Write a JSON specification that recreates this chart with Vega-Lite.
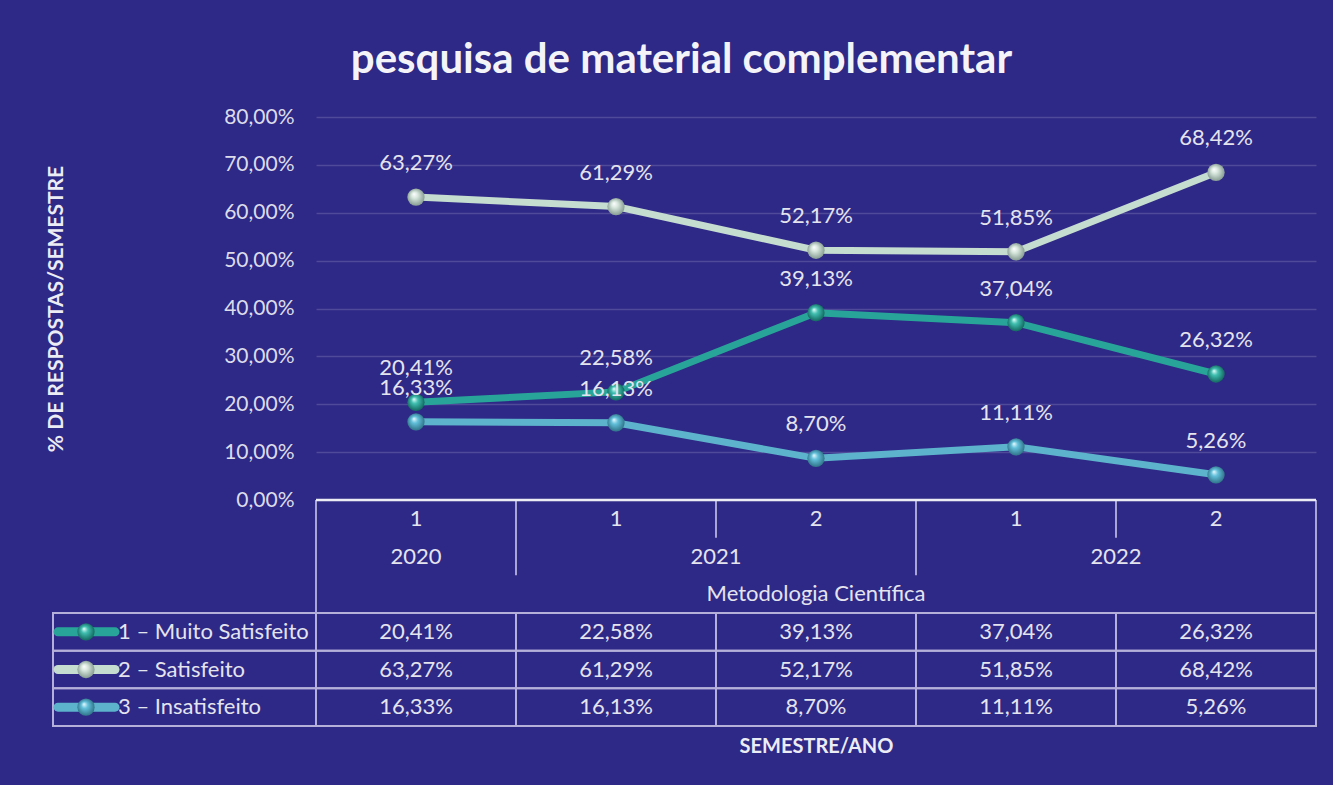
{
  "$schema": "https://vega.github.io/schema/vega-lite/v6.json",
  "background": "#2e2886",
  "padding": {"left": 45, "top": 39, "right": 15, "bottom": 43},
  "spacing": 0,
  "bounds": "flush",
  "config": {
    "font": "Lato",
    "view": {"stroke": null}
  },
  "title": {"text": "pesquisa de material complementar", "fontSize": 42, "fontWeight": "bold", "color": "#f4f4f8", "anchor": "middle", "offset": 24},
  "datasets": {
    "d": [
      {"ordem": 1, "ano": "2020", "sem": "1", "serie": "1 – Muito Satisfeito", "v": 0.2041},
      {"ordem": 2, "ano": "2021", "sem": "1", "serie": "1 – Muito Satisfeito", "v": 0.2258},
      {"ordem": 3, "ano": "2021", "sem": "2", "serie": "1 – Muito Satisfeito", "v": 0.3913},
      {"ordem": 4, "ano": "2022", "sem": "1", "serie": "1 – Muito Satisfeito", "v": 0.3704},
      {"ordem": 5, "ano": "2022", "sem": "2", "serie": "1 – Muito Satisfeito", "v": 0.2632},
      {"ordem": 1, "ano": "2020", "sem": "1", "serie": "2 – Satisfeito", "v": 0.6327},
      {"ordem": 2, "ano": "2021", "sem": "1", "serie": "2 – Satisfeito", "v": 0.6129},
      {"ordem": 3, "ano": "2021", "sem": "2", "serie": "2 – Satisfeito", "v": 0.5217},
      {"ordem": 4, "ano": "2022", "sem": "1", "serie": "2 – Satisfeito", "v": 0.5185},
      {"ordem": 5, "ano": "2022", "sem": "2", "serie": "2 – Satisfeito", "v": 0.6842},
      {"ordem": 1, "ano": "2020", "sem": "1", "serie": "3 – Insatisfeito", "v": 0.1633},
      {"ordem": 2, "ano": "2021", "sem": "1", "serie": "3 – Insatisfeito", "v": 0.1613},
      {"ordem": 3, "ano": "2021", "sem": "2", "serie": "3 – Insatisfeito", "v": 0.0870},
      {"ordem": 4, "ano": "2022", "sem": "1", "serie": "3 – Insatisfeito", "v": 0.1111},
      {"ordem": 5, "ano": "2022", "sem": "2", "serie": "3 – Insatisfeito", "v": 0.0526}
    ]
  },
  "vconcat": [
    {
      "width": 1000,
      "height": 383,
      "data": {"name": "d"},
      "transform": [
        {"calculate": "replace(format(datum.v * 100, '.2f'), '.', ',') + '%'", "as": "lbl"}
      ],
      "encoding": {
        "x": {"field": "ordem", "type": "quantitative", "scale": {"domain": [0.5, 5.5], "nice": false, "zero": false}, "axis": null},
        "y": {"field": "v", "type": "quantitative", "scale": {"domain": [0, 0.8], "nice": false},
          "axis": {"values": [0, 0.1, 0.2, 0.3, 0.4, 0.5, 0.6, 0.7, 0.8], "labelExpr": "replace(format(datum.value * 100, '.2f'), '.', ',') + '%'", "labelFontSize": 21, "labelColor": "#dcdcea", "labelPadding": 22, "ticks": false, "domain": false,
            "gridColor": "#ffffff", "gridOpacity": 0.16, "gridWidth": 1.5,
            "title": "% DE RESPOSTAS/SEMESTRE", "titleFontSize": 21, "titleFontWeight": "bold", "titleColor": "#ececf4", "titlePadding": 157}}
      },
      "layer": [
        {
          "mark": {"type": "line", "strokeWidth": 7, "clip": false},
          "encoding": {"color": {"field": "serie", "type": "nominal", "scale": {"domain": ["1 – Muito Satisfeito", "2 – Satisfeito", "3 – Insatisfeito"], "range": ["#28a598", "#c5dcd0", "#5db3cb"]}, "legend": null}}
        },
        {
          "transform": [{"filter": "datum.serie === '1 – Muito Satisfeito'"}],
          "mark": {"type": "point", "filled": true, "size": 300, "opacity": 1, "clip": false,
            "fill": {"gradient": "radial", "x1": 0.38, "y1": 0.32, "r1": 0, "x2": 0.5, "y2": 0.5, "r2": 0.55, "stops": [{"offset": 0, "color": "#e8fffb"}, {"offset": 0.35, "color": "#3fbfb0"}, {"offset": 1, "color": "#0f5e57"}]}}
        },
        {
          "transform": [{"filter": "datum.serie === '2 – Satisfeito'"}],
          "mark": {"type": "point", "filled": true, "size": 300, "opacity": 1, "clip": false,
            "fill": {"gradient": "radial", "x1": 0.38, "y1": 0.32, "r1": 0, "x2": 0.5, "y2": 0.5, "r2": 0.55, "stops": [{"offset": 0, "color": "#ffffff"}, {"offset": 0.35, "color": "#d6e6dd"}, {"offset": 1, "color": "#7e948a"}]}}
        },
        {
          "transform": [{"filter": "datum.serie === '3 – Insatisfeito'"}],
          "mark": {"type": "point", "filled": true, "size": 300, "opacity": 1, "clip": false,
            "fill": {"gradient": "radial", "x1": 0.38, "y1": 0.32, "r1": 0, "x2": 0.5, "y2": 0.5, "r2": 0.55, "stops": [{"offset": 0, "color": "#eafaff"}, {"offset": 0.35, "color": "#62c0da"}, {"offset": 1, "color": "#2a6b80"}]}}
        },
        {
          "mark": {"type": "text", "dy": -34, "fontSize": 22, "color": "#e4e4ee", "clip": false},
          "encoding": {"text": {"field": "lbl"}}
        }
      ]
    },
    {
      "width": 1000,
      "height": 226,
      "data": {"name": "d"},
      "transform": [
        {"calculate": "indexof(['1 – Muito Satisfeito','2 – Satisfeito','3 – Insatisfeito'], datum.serie) + 3", "as": "row"},
        {"calculate": "datum.row + 1", "as": "row2"},
        {"calculate": "datum.row + 0.5", "as": "rc"},
        {"calculate": "datum.ordem - 0.5", "as": "xa"},
        {"calculate": "datum.ordem + 0.5", "as": "xb"},
        {"calculate": "replace(format(datum.v * 100, '.2f'), '.', ',') + '%'", "as": "lbl"}
      ],
      "encoding": {
        "x": {"field": "xa", "type": "quantitative", "scale": {"domain": [0.5, 5.5], "nice": false, "zero": false},
          "axis": {"labels": false, "ticks": false, "grid": false, "domain": false, "title": "SEMESTRE/ANO", "titleFontSize": 20, "titleFontWeight": "bold", "titleColor": "#ececf4", "titlePadding": 10}},
        "y": {"field": "row", "type": "quantitative", "scale": {"domain": [0, 6], "reverse": true, "nice": false, "zero": false}, "axis": null}
      },
      "layer": [
        {
          "mark": {"type": "rect", "fillOpacity": 0, "stroke": "#b4b0da", "strokeWidth": 2, "clip": false},
          "encoding": {
            "x2": {"field": "xb"},
            "y2": {"field": "row2"}
          }
        },
        {
          "transform": [
            {"aggregate": [{"op": "min", "field": "row", "as": "rmin"}, {"op": "min", "field": "row2", "as": "rmax"}], "groupby": ["serie"]},
            {"calculate": "datum.rmin", "as": "row"},
            {"calculate": "datum.rmax", "as": "row2"},
            {"calculate": "-0.815", "as": "xa"},
            {"calculate": "0.5", "as": "xb"}
          ],
          "mark": {"type": "rect", "fillOpacity": 0, "stroke": "#b4b0da", "strokeWidth": 2, "clip": false},
          "encoding": {
            "x2": {"field": "xb"},
            "y2": {"field": "row2"}
          }
        },
        {
          "transform": [
            {"filter": "datum.serie === '1 – Muito Satisfeito'"},
            {"window": [{"op": "lag", "field": "ano", "as": "prev"}], "sort": [{"field": "ordem"}]},
            {"calculate": "datum.ordem == 1 ? 3 : (datum.ano != datum.prev ? 2 : 1)", "as": "ye"},
            {"calculate": "0", "as": "row"}
          ],
          "mark": {"type": "rule", "stroke": "#a9a5d4", "strokeWidth": 2, "clip": false},
          "encoding": {
            "y2": {"field": "ye"}
          }
        },
        {
          "transform": [
            {"filter": "datum.serie === '1 – Muito Satisfeito' && datum.ordem == 5"},
            {"calculate": "datum.xb", "as": "xa"},
            {"calculate": "0", "as": "row"},
            {"calculate": "3", "as": "ye"}
          ],
          "mark": {"type": "rule", "stroke": "#a9a5d4", "strokeWidth": 2, "clip": false},
          "encoding": {
            "y2": {"field": "ye"}
          }
        },
        {
          "transform": [
            {"aggregate": [{"op": "min", "field": "ordem", "as": "mn"}, {"op": "max", "field": "ordem", "as": "mx"}]},
            {"calculate": "datum.mn - 0.5", "as": "xa"},
            {"calculate": "datum.mx + 0.5", "as": "xb"},
            {"calculate": "0", "as": "row"}
          ],
          "mark": {"type": "rule", "stroke": "#ececf4", "strokeWidth": 2.5, "clip": false},
          "encoding": {
            "x2": {"field": "xb"}
          }
        },
        {
          "transform": [
            {"filter": "datum.serie === '1 – Muito Satisfeito'"},
            {"calculate": "datum.ordem", "as": "xa"},
            {"calculate": "0.5", "as": "row"}
          ],
          "mark": {"type": "text", "fontSize": 22, "color": "#e4e4ee", "clip": false},
          "encoding": {
            "text": {"field": "sem"}
          }
        },
        {
          "transform": [
            {"aggregate": [{"op": "min", "field": "ordem", "as": "mn"}, {"op": "max", "field": "ordem", "as": "mx"}], "groupby": ["ano"]},
            {"calculate": "(datum.mn + datum.mx) / 2", "as": "xa"},
            {"calculate": "1.5", "as": "row"}
          ],
          "mark": {"type": "text", "fontSize": 22, "color": "#e4e4ee", "clip": false},
          "encoding": {
            "text": {"field": "ano"}
          }
        },
        {
          "transform": [
            {"aggregate": [{"op": "mean", "field": "ordem", "as": "xa"}]},
            {"calculate": "2.5", "as": "row"},
            {"calculate": "'Metodologia Científica'", "as": "grupo"}
          ],
          "mark": {"type": "text", "fontSize": 22, "color": "#e4e4ee", "clip": false},
          "encoding": {
            "text": {"field": "grupo"}
          }
        },
        {
          "transform": [
            {"calculate": "datum.ordem", "as": "xa"},
            {"calculate": "datum.rc", "as": "row"}
          ],
          "mark": {"type": "text", "fontSize": 22, "color": "#e4e4ee", "clip": false},
          "encoding": {
            "text": {"field": "lbl"}
          }
        },
        {
          "transform": [
            {"aggregate": [{"op": "min", "field": "rc", "as": "rcm"}], "groupby": ["serie"]},
            {"calculate": "datum.rcm", "as": "row"},
            {"calculate": "-0.79", "as": "xa"},
            {"calculate": "-0.505", "as": "xb"}
          ],
          "mark": {"type": "rule", "strokeWidth": 9, "strokeCap": "round", "clip": false},
          "encoding": {
            "x2": {"field": "xb"},
            "color": {"field": "serie", "type": "nominal", "scale": {"domain": ["1 – Muito Satisfeito", "2 – Satisfeito", "3 – Insatisfeito"], "range": ["#28a598", "#c5dcd0", "#5db3cb"]}, "legend": null}
          }
        },
        {
          "transform": [
            {"filter": "datum.serie === '1 – Muito Satisfeito'"},
            {"aggregate": [{"op": "min", "field": "rc", "as": "rcm"}]},
            {"calculate": "datum.rcm", "as": "row"},
            {"calculate": "-0.65", "as": "xa"}
          ],
          "mark": {"type": "point", "filled": true, "size": 300, "opacity": 1, "clip": false,
            "fill": {"gradient": "radial", "x1": 0.38, "y1": 0.32, "r1": 0, "x2": 0.5, "y2": 0.5, "r2": 0.55, "stops": [{"offset": 0, "color": "#e8fffb"}, {"offset": 0.35, "color": "#3fbfb0"}, {"offset": 1, "color": "#0f5e57"}]}}
        },
        {
          "transform": [
            {"filter": "datum.serie === '2 – Satisfeito'"},
            {"aggregate": [{"op": "min", "field": "rc", "as": "rcm"}]},
            {"calculate": "datum.rcm", "as": "row"},
            {"calculate": "-0.65", "as": "xa"}
          ],
          "mark": {"type": "point", "filled": true, "size": 300, "opacity": 1, "clip": false,
            "fill": {"gradient": "radial", "x1": 0.38, "y1": 0.32, "r1": 0, "x2": 0.5, "y2": 0.5, "r2": 0.55, "stops": [{"offset": 0, "color": "#ffffff"}, {"offset": 0.35, "color": "#d6e6dd"}, {"offset": 1, "color": "#7e948a"}]}}
        },
        {
          "transform": [
            {"filter": "datum.serie === '3 – Insatisfeito'"},
            {"aggregate": [{"op": "min", "field": "rc", "as": "rcm"}]},
            {"calculate": "datum.rcm", "as": "row"},
            {"calculate": "-0.65", "as": "xa"}
          ],
          "mark": {"type": "point", "filled": true, "size": 300, "opacity": 1, "clip": false,
            "fill": {"gradient": "radial", "x1": 0.38, "y1": 0.32, "r1": 0, "x2": 0.5, "y2": 0.5, "r2": 0.55, "stops": [{"offset": 0, "color": "#eafaff"}, {"offset": 0.35, "color": "#62c0da"}, {"offset": 1, "color": "#2a6b80"}]}}
        },
        {
          "transform": [
            {"aggregate": [{"op": "min", "field": "rc", "as": "rcm"}], "groupby": ["serie"]},
            {"calculate": "datum.rcm", "as": "row"},
            {"calculate": "-0.49", "as": "xa"}
          ],
          "mark": {"type": "text", "align": "left", "fontSize": 22, "color": "#e4e4ee", "clip": false},
          "encoding": {
            "text": {"field": "serie"}
          }
        }
      ]
    }
  ]
}
